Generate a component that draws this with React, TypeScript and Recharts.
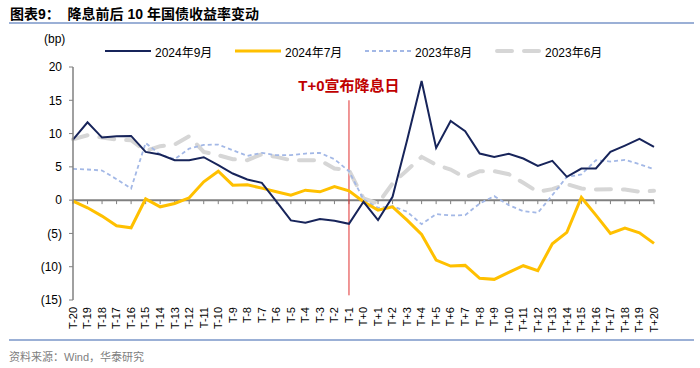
import { LineChart, Line, XAxis, YAxis, ReferenceLine } from 'recharts';

const categories = [
  'T-20', 'T-19', 'T-18', 'T-17', 'T-16', 'T-15', 'T-14', 'T-13', 'T-12', 'T-11',
  'T-10', 'T-9', 'T-8', 'T-7', 'T-6', 'T-5', 'T-4', 'T-3', 'T-2', 'T-1',
  'T+0', 'T+1', 'T+2', 'T+3', 'T+4', 'T+5', 'T+6', 'T+7', 'T+8', 'T+9',
  'T+10', 'T+11', 'T+12', 'T+13', 'T+14', 'T+15', 'T+16', 'T+17', 'T+18', 'T+19', 'T+20',
];

const sep2024 = [
  9.1, 11.7, 9.4, 9.6, 9.65, 7.25, 6.85, 6.0, 6.0, 6.45,
  5.25, 4.0, 3.1, 2.6, -0.2, -3.05, -3.4, -2.85, -3.1, -3.55,
  -0.25, -3.0, 0.5, 9.0, 17.9, 7.85, 11.9, 10.35, 7.0, 6.5,
  6.95, 6.25, 5.15, 5.9, 3.5, 4.75, 4.75, 7.25, 8.2, 9.2, 8.0,
];

const jul2024 = [
  -0.15, -1.15, -2.4, -3.85, -4.15, 0.2, -1.0, -0.5, 0.35, 2.75,
  4.35, 2.25, 2.3, 1.8, 1.25, 0.75, 1.5, 1.25, 2.05, 1.4,
  -0.25, -1.5, -1.0, -3.0, -5.15, -9.0, -9.9, -9.8, -11.75, -11.9,
  -10.85, -9.85, -10.6, -6.55, -4.85, 0.4, -2.25, -5.0, -4.2, -4.9, -6.5,
];

const aug2023 = [
  4.7, 4.6, 4.45, 3.15, 1.75, 8.6, 6.85, 6.15, 7.75, 8.3,
  8.35, 7.5, 6.65, 7.1, 6.75, 6.75, 7.0, 7.1, 6.15, 4.35,
  0.1, -1.15, -0.9, -1.75, -3.6, -2.1, -2.3, -2.25, -0.5, 0.6,
  -0.75, -1.65, -1.9, 0.75, 3.5, 3.85, 6.0, 5.8, 6.05, 5.4, 4.65,
];

const jun2023 = [
  9.15, 9.75, 9.4, 9.1, 9.0, 7.4, 8.1, 8.35, 9.6, 7.25,
  6.75, 6.15, 6.0, 6.9, 6.5, 6.0, 6.0, 6.0, 4.75, 4.5,
  0.25, -0.5, 2.5, 4.5, 6.5, 5.3, 4.6, 3.4, 4.35, 4.35,
  3.9, 2.6, 1.25, 1.65, 2.4, 1.75, 1.6, 1.65, 1.6, 1.25, 1.4,
];

const yTicks = [-15, -10, -5, 0, 5, 10, 15, 20];

const series = [
  { key: 'sep2024', name: '2024年9月', color: '#17245a', width: 2, dash: undefined, cap: 'butt' },
  { key: 'jul2024', name: '2024年7月', color: '#ffc000', width: 3, dash: undefined, cap: 'butt' },
  { key: 'aug2023', name: '2023年8月', color: '#a3b8e6', width: 1.8, dash: '4 3', cap: 'butt' },
  { key: 'jun2023', name: '2023年6月', color: '#d6d6d6', width: 4, dash: '15 12', cap: 'round' },
];

const data = categories.map((cat, i) => ({
  cat,
  sep2024: sep2024[i],
  jul2024: jul2024[i],
  aug2023: aug2023[i],
  jun2023: jun2023[i],
}));

const FONT = '"Liberation Sans", Arial, "Noto Sans CJK SC", sans-serif';

const fmtY = (v: number) => (v < 0 ? `(${-v})` : `${v}`);

function XTick({ x, y, payload }: any) {
  return (
    <text
      x={x}
      y={y - 1}
      transform={`rotate(-90, ${x}, ${y - 1})`}
      textAnchor="end"
      dy="0.35em"
      fontSize={11}
      fill="#000"
      fontFamily={FONT}
    >
      {payload.value}
    </text>
  );
}

export default function App() {
  return (
    <div style={{ position: 'absolute', left: 0, top: 0, width: 700, height: 368, background: '#fff', fontFamily: FONT }}>
      <div style={{ position: 'absolute', left: 10, top: 3, fontSize: 14, fontWeight: 'bold', color: '#000', whiteSpace: 'nowrap' }}>
        图表9：&nbsp;&nbsp;降息前后 10 年国债收益率变动
      </div>
      <div style={{ position: 'absolute', left: 9, right: 6, top: 22, height: 2, background: '#9bb0d6' }} />

      <div style={{ position: 'absolute', left: 44, top: 32, fontSize: 12, color: '#000' }}>(bp)</div>

      {series.map((s, i) => (
        <div key={s.key} style={{ position: 'absolute', left: 105 + i * 130, top: 42, height: 18, display: 'flex', alignItems: 'center' }}>
          <svg width={46} height={8}>
            <line
              x1={s.cap === 'round' ? 2 : 0}
              x2={s.cap === 'round' ? 44 : 46}
              y1={4}
              y2={4}
              stroke={s.color}
              strokeWidth={s.width}
              strokeDasharray={s.dash}
              strokeLinecap={s.cap as any}
            />
          </svg>
          <span style={{ marginLeft: 4, fontSize: 12, color: '#000', whiteSpace: 'nowrap' }}>{s.name}</span>
        </div>
      ))}

      <div style={{ position: 'absolute', left: 0, top: 0 }}>
        <LineChart width={700} height={368} data={data} margin={{ top: 67, right: 46, bottom: 0, left: 0 }}>
          <XAxis
            dataKey="cat"
            interval={0}
            axisLine={false}
            tickLine={false}
            height={68}
            tick={<XTick />}
          />
          <YAxis
            domain={[-15, 20]}
            ticks={yTicks}
            width={73}
            tickFormatter={fmtY}
            axisLine={{ stroke: '#808080', strokeWidth: 1.5 }}
            tickLine={{ stroke: '#808080' }}
            tickSize={4}
            tickMargin={7}
            tick={{ fontSize: 12, fill: '#000', fontFamily: FONT }}
          />
          <ReferenceLine y={0} stroke="#808080" strokeWidth={2} />
          {categories.map((c) => (
            <ReferenceLine
              key={c}
              segment={[{ x: c, y: 0 }, { x: c, y: -0.6 }]}
              stroke="#808080"
              strokeWidth={1}
            />
          ))}
          <ReferenceLine
            segment={[{ x: 'T-1', y: 15 }, { x: 'T-1', y: -14.3 }]}
            stroke="#e03030"
            strokeWidth={1}
            label={{
              value: 'T+0宣布降息日',
              position: 'top',
              offset: 9,
              fill: '#c00000',
              fontSize: 15,
              fontWeight: 'bold',
              fontFamily: FONT,
            }}
          />
          {[...series].reverse().map((s) => (
            <Line
              key={s.key}
              dataKey={s.key}
              name={s.name}
              type="linear"
              stroke={s.color}
              strokeWidth={s.width}
              strokeDasharray={s.dash}
              strokeLinecap={s.cap as any}
              dot={false}
              activeDot={false}
              isAnimationActive={false}
            />
          ))}
        </LineChart>
      </div>

      <div style={{ position: 'absolute', left: 9, right: 6, top: 339, height: 1.5, background: '#9bb0d6' }} />
      <div style={{ position: 'absolute', left: 9, top: 348, fontSize: 11, color: '#808080', whiteSpace: 'nowrap' }}>
        资料来源：Wind，华泰研究
      </div>
    </div>
  );
}
